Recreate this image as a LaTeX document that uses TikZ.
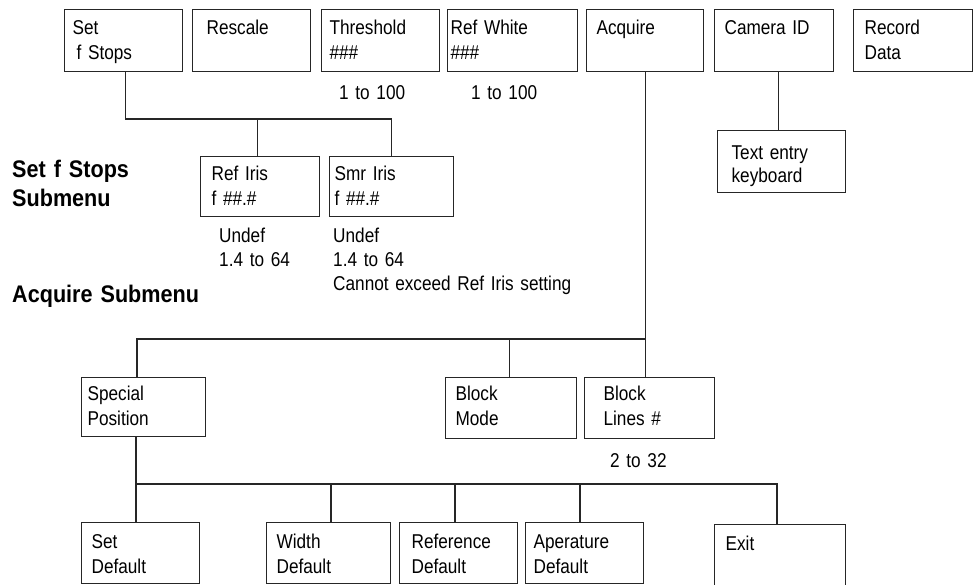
\documentclass[tikz,border=0pt]{standalone}
\usepackage{fontspec}
\setmainfont{Liberation Sans}[FakeStretch=0.86]
\newfontfamily\headfont{Liberation Sans}[FakeStretch=0.9]

% name, x, y, width, height, left inset, first baseline, text
\newcommand\menubox[8]{%
  \pgfmathsetmacro\mbtw{#4-2*#6}%
  \pgfmathsetmacro\mbdp{#5-#7}%
  \node[menubox, minimum width=#4pt, minimum height=#5pt,
        text width=\mbtw pt, inner xsep=#6pt,
        text height=#7pt, text depth=\mbdp pt] (#1) at (#2,#3) {#8};}

\begin{document}
\begin{tikzpicture}[x=1pt,y=-1pt,
  every node/.style={font=\fontsize{20}{25}\selectfont, text=black},
  menubox/.style={draw=black!85, line width=1.2pt, anchor=north west,
                  align=left, inner ysep=0pt},
  link/.style={draw=black!85, line width=1.2pt},
  note/.style={anchor=north west, inner sep=0pt, align=left,
               text height=15pt, text width=#1,
               font=\fontsize{20}{24}\selectfont},
  note/.default=120pt,
  heading/.style={anchor=north west, inner sep=0pt, align=left,
                  text height=18pt, text width=#1,
                  font=\headfont\bfseries\fontsize{24}{29}\selectfont},
  heading/.default=200pt]
\useasboundingbox (0,0) rectangle (976,585);

% main menu
\menubox{setf}{64}{9}{118}{62}{8}{25}{Set\\\hspace*{4pt}f Stops}
\menubox{rescale}{192}{9}{118}{62}{14}{25}{Rescale}
\menubox{thresh}{321}{9}{118}{62}{8}{25}{Threshold\\\#\#\#}
\menubox{refwhite}{447}{9}{130}{62}{3}{25}{Ref White\\\#\#\#}
\menubox{acquire}{586}{9}{117}{62}{10}{25}{Acquire}
\menubox{camid}{714}{9}{119}{62}{10}{25}{Camera ID}
\menubox{record}{853}{9}{119}{62}{11}{25}{Record\\Data}

\node[note] (threshrange) at (339,84) {1 to 100};
\node[note] (whiterange) at (471,84) {1 to 100};

% f-stop submenu
\menubox{refiris}{200}{156}{119}{60}{11}{24}{Ref Iris\\f \#\#.\#}
\menubox{smriris}{329}{156}{124}{60}{5}{24}{Smr Iris\\f \#\#.\#}
\menubox{textentry}{717}{130}{128}{62}{14}{29}{Text entry\\[-2pt]keyboard}

\node[note] (refirisnote) at (219,227) {Undef\\1.4 to 64};
\node[note=280pt] (smririsnote) at (333,227) {Undef\\1.4 to 64\\Cannot exceed Ref Iris setting};

\node[heading] (fsub) at (12,159) {Set f Stops\\Submenu};
\node[heading=240pt] (acqsub) at (12,284) {Acquire Submenu};

% acquire submenu
\menubox{special}{81}{377}{124}{59}{6}{23}{Special\\Position}
\menubox{blockmode}{445}{377}{131}{61}{10}{23}{Block\\Mode}
\menubox{blocklines}{584}{377}{130}{61}{19}{23}{Block\\Lines \#}

\node[note] (linesrange) at (610,452) {2 to 32};

% special position submenu
\menubox{setdef}{81}{522}{118}{61}{10}{26}{Set\\Default}
\menubox{widthdef}{266}{522}{124}{61}{10}{26}{Width\\Default}
\menubox{refdef}{399}{522}{118}{61}{12}{26}{Reference\\Default}
\menubox{aperdef}{525}{522}{118}{61}{8}{26}{Aperature\\Default}
\menubox{exit}{714}{524}{131}{61}{11}{26}{Exit}

% bus levels and branch points
\coordinate (fbus) at (0,119);
\coordinate (abus) at (0,339);
\coordinate (sbus) at (0,484);
\coordinate (setfx) at ([xshift=2pt]setf.south);
\coordinate (refirisx) at ([xshift=-3pt]refiris.north);
\coordinate (textx) at ([xshift=-3pt]textentry.north);
\coordinate (specx) at ([xshift=56pt]special.north west);
\coordinate (modex) at ([xshift=-2pt]blockmode.north);
\coordinate (spdown) at ([xshift=55pt]special.south west);
\coordinate (setdefx) at ([xshift=55pt]setdef.north west);
\coordinate (widthx) at ([xshift=65pt]widthdef.north west);
\coordinate (refdefx) at ([xshift=56pt]refdef.north west);
\coordinate (aperx) at ([xshift=55pt]aperdef.north west);
\coordinate (exitx) at ([xshift=63pt]exit.north west);

% connectors
\draw[link] (setfx) |- (smriris.north |- fbus) -- (smriris.north);
\draw[link] (refirisx) -- (refirisx |- fbus);
\draw[link] (textx) -- (textx |- camid.south);

\draw[link] (acquire.south) -- (acquire.south |- blocklines.north);
\draw[link] (acquire.south |- abus) -| (specx);
\draw[link] (modex) -- (modex |- abus);

\draw[link] (spdown) -- (setdefx);
\draw[link] (spdown |- sbus) -| (exitx);
\draw[link] (widthx) -- (widthx |- sbus);
\draw[link] (refdefx) -- (refdefx |- sbus);
\draw[link] (aperx) -- (aperx |- sbus);
\end{tikzpicture}
\end{document}
